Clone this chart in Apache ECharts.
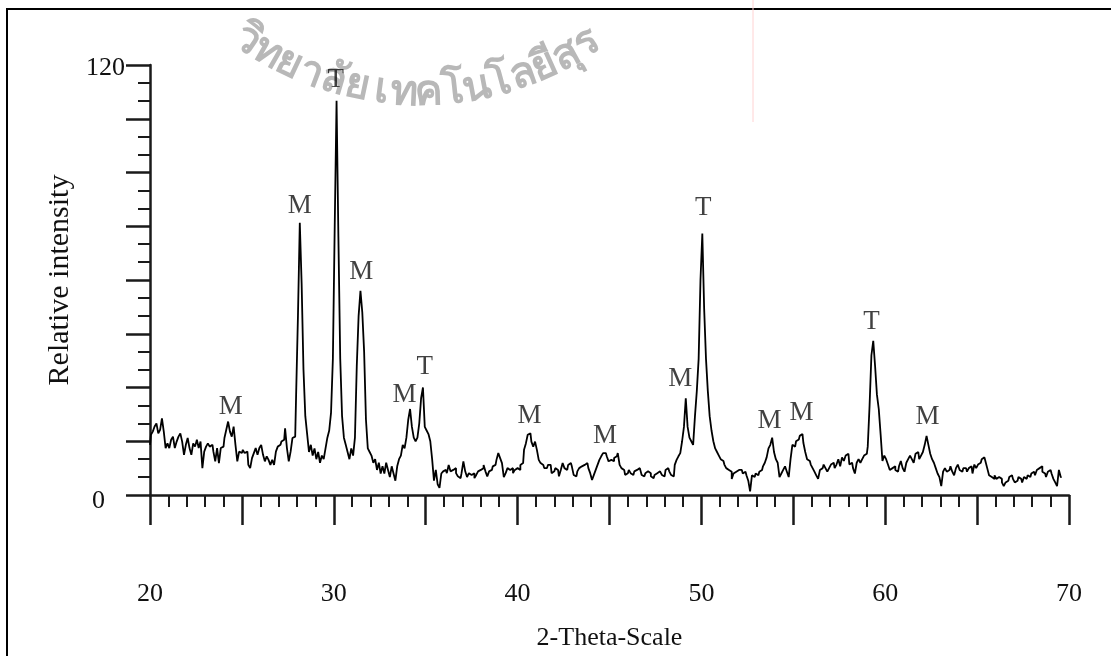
<!DOCTYPE html>
<html>
<head>
<meta charset="utf-8">
<script src="https://cdn.jsdelivr.net/npm/echarts@6/dist/echarts.min.js"></script>
<style>
  html, body { margin: 0; padding: 0; background: #fff; }
  #chart { width: 1111px; height: 656px; }
</style>
</head>
<body>
<div id="chart"></div>
<script>
// ── XRD scan: 2-theta grid and intensity ─────────────────────────────────────
var scanStart = 20;     // first 2-theta of the scan
var scanStep = 0.1;     // 2-theta step of the scan
var intensity = [
  14, 16.8, 17.7, 19.1, 20, 17.2, 18.2, 21.4, 17.7, 13.1,        // 20
  14.4, 13.1, 15.4, 16.3, 13.1, 14.9, 16.3, 17.2, 14.9, 11.2,    // 21
  14, 15.9, 13.1, 11.2, 14.4, 13.5, 15.4, 13.1, 14.9, 7.5,       // 22
  12.1, 13.5, 14.4, 13.5, 14, 12.1, 9.4, 13.1, 8.9, 13.1,        // 23
  13.5, 15.9, 18.2, 20.5, 17.7, 16.3, 19.1, 14, 9.4, 12.1,       // 24
  11.7, 12.6, 11.7, 12.1, 8.4, 7.5, 10.3, 11.7, 13.1, 11.2,      // 25
  13.1, 14, 11.2, 9.4, 10.8, 9.8, 8.4, 9.8, 8.4, 12.1,           // 26
  13.5, 14, 14.9, 15.4, 18.6, 13.1, 9.4, 12.1, 15.9, 16.3,       // 27
  28, 50, 76, 59, 35, 22, 17, 12, 14, 11,                        // 28
  13, 10, 12, 9, 11, 10, 13, 16, 18, 23,                         // 29
  38, 75, 110, 72, 38, 22, 16, 14, 12, 10,                       // 30
  13, 11, 16, 36, 50, 57, 51, 40, 21, 13,                        // 31
  12, 11, 9, 10, 7, 9, 6, 8, 6, 9,                               // 32
  7, 5, 8, 6, 4, 8, 10, 11, 14, 13,                              // 33
  16, 21, 24, 19, 16, 15, 16, 20, 27, 30,                        // 34
  19, 18, 17, 15, 10, 4, 7, 3, 2, 6,                             // 35
  6.6, 7, 6.1, 8.4, 6.6, 7, 7.5, 6.1, 5.2, 4.7,                  // 36
  6.1, 9.4, 6.6, 5, 6.1, 5.6, 6.1, 4.7, 5.6, 6.6,                // 37
  7, 7.5, 8.4, 6.6, 5.2, 6.6, 7, 8, 8.4, 9.8,                    // 38
  11.7, 10.3, 8.9, 5, 6.1, 7.5, 7, 7.5, 6.1, 7,                  // 39
  7.5, 7, 8.4, 8.9, 12.6, 14.4, 16.8, 17.2, 14.9, 13.5,          // 40
  14.9, 12.6, 9.8, 8.9, 8.4, 7.5, 7.5, 8.4, 8.4, 6.1,            // 41
  6.6, 7.5, 7, 5.2, 7, 8.9, 7.5, 7, 8.4, 8.9,                    // 42
  8, 5.6, 5.2, 6.6, 7.5, 8, 8.4, 8.9, 8.9, 7.5,                  // 43
  6.1, 4.2, 5.6, 7, 8.4, 9.8, 10.8, 11.7, 11.7, 10.8,            // 44
  9.4, 9.8, 9.4, 10.3, 10.8, 11.7, 8.4, 7.5, 7, 5.6,             // 45
  6.1, 7, 6.1, 5.6, 6.6, 7, 7.5, 7, 5.6, 5.2,                    // 46
  6.1, 6.6, 6.1, 5.2, 4.7, 5.6, 6.1, 6.6, 7, 5.6,                // 47
  5.2, 7, 7.5, 6.6, 5.6, 5.2, 8.4, 9.8, 10.8, 11.7,              // 48
  15, 19, 27, 19, 16, 15, 14, 22, 29, 38,                        // 49
  60, 73, 52, 38, 29, 22, 18, 15, 13, 12,                        // 50
  11, 10, 9.5, 8.5, 7.5, 7, 6.5, 4.5, 6, 6.5,                    // 51
  7, 7.5, 7, 6, 6.5, 5.5, 4, 1, 5.5, 5,                          // 52
  6, 5.5, 6.5, 7, 8, 9, 10.5, 13, 14, 16,                        // 53
  12, 10, 9, 5, 6, 7, 8, 6.5, 5, 10,                             // 54
  14, 13.5, 15, 15.5, 16.5, 17, 14.5, 12, 10, 9.5,               // 55
  8.5, 7.5, 6.5, 5.5, 4.5, 7, 7.5, 8.5, 7.5, 6.5,                // 56
  7.5, 8.5, 9, 7.5, 8.5, 10, 8, 10.5, 9.5, 11,                   // 57
  11.5, 8.5, 9, 7.5, 6, 9, 10, 9, 10, 11,                        // 58
  11.5, 13.5, 25, 39, 43, 36, 28, 24, 17, 9.5,                   // 59
  11, 10, 8.5, 7, 7.5, 8, 7, 6.5, 8, 9.5,                        // 60
  7.5, 6.5, 9, 10, 11, 10, 9, 11.5, 12, 10,                      // 61
  11, 12, 14, 16.5, 14, 11.5, 10, 9, 7.5, 6,                     // 62
  5, 2.5, 6.5, 7.5, 6.5, 7, 8, 6.5, 5.5, 7.5,                    // 63
  8.5, 7, 6.5, 7.5, 7.5, 6.5, 7.5, 8, 6, 8.5,                    // 64
  7.5, 8.5, 9, 10, 10.5, 9.5, 7.5, 5.5, 5, 4.5,                  // 65
  5.5, 4.5, 5, 4.5, 3.5, 2.5, 3.5, 4, 5, 5.5,                    // 66
  4.5, 3.5, 4, 5, 4.5, 3.5, 5, 4.5, 5.5, 5,                      // 67
  6, 6.5, 5.5, 7, 7.5, 8, 6.5, 6, 5, 6.5,                        // 68
  7, 6, 4.5, 3.5, 2.5, 7, 5                                      // 69
];

// ── Phase labels (M / T) and where they sit ──────────────────────────────────
var peakNames = ['M', 'M', 'T', 'M', 'M', 'T', 'M', 'M', 'M', 'T', 'M', 'M', 'T', 'M'];
var peakTheta = [24.4, 28.15, 30.1, 31.5, 33.85, 34.95, 40.65, 44.75, 48.85, 50.1, 53.7, 55.45, 59.25, 62.3];
var peakLabelY = [24.7, 80.6, 115.8, 62.2, 27.8, 35.8, 22.1, 16.5, 32.5, 80, 20.8, 23, 48.3, 21.7];

// ── Axis text ────────────────────────────────────────────────────────────────
var xTitle = '2-Theta-Scale';
var yTitle = 'Relative intensity';
var yShownTicks = [0, 120];
var watermarkClusters = ['วิ', 'ท', 'ย', 'า', 'ลั', 'ย', 'เ', 'ท', 'ค', 'โ', 'น', 'โ', 'ล', 'ยี', 'สุ', 'ร'];

var SERIF = "'Liberation Serif', 'Times New Roman', 'DejaVu Serif', serif";
var INK = '#1a1a1a';
var FS = 26;

var scan = intensity.map(function(v, i) {
  return [+(scanStart + i * scanStep).toFixed(1), v];
});
var peaks = peakNames.map(function(n, i) {
  return { name: n, value: [peakTheta[i], peakLabelY[i]] };
});

// watermark along an arc (decoration only)
function watermark() {
  var cx = 420, cy = -212, R = 305, a0 = -0.6, a1 = 0.58;
  var n = watermarkClusters.length;
  return watermarkClusters.map(function(t, i) {
    var phi = a0 + (a1 - a0) * i / (n - 1);
    return {
      type: 'text', silent: true, z: 0,
      x: cx + R * Math.sin(phi), y: cy + R * Math.cos(phi),
      rotation: phi,
      style: {
        text: t, fill: '#b8b8b8', font: 'bold 42px sans-serif',
        align: 'center', verticalAlign: 'middle'
      }
    };
  });
}

var chart = echarts.init(document.getElementById('chart'), null, { renderer: 'canvas' });
chart.setOption({
  animation: false,
  backgroundColor: '#fff',
  grid: { left: 150, right: 42, top: 65, bottom: 159 },
  xAxis: {
    type: 'value', min: 20, max: 70, interval: 5,
    axisLine: { lineStyle: { color: INK, width: 2.5 } },
    axisTick: { length: 30, lineStyle: { color: INK, width: 2.5 } },
    minorTick: { show: true, splitNumber: 5, length: 12, lineStyle: { color: INK, width: 2 } },
    splitLine: { show: false },
    axisLabel: {
      margin: 86, color: '#111', fontFamily: SERIF, fontSize: FS,
      showMinLabel: true, showMaxLabel: true,
      formatter: function(v) { return v % 10 === 0 ? String(v) : ''; }
    },
    name: xTitle, nameLocation: 'middle', nameGap: 130,
    nameTextStyle: { color: '#111', fontFamily: SERIF, fontSize: FS }
  },
  yAxis: {
    type: 'value', min: 0, max: 120, interval: 15,
    axisLine: { show: true, lineStyle: { color: INK, width: 2.5 } },
    axisTick: { show: true, length: 24, lineStyle: { color: INK, width: 2.5 } },
    minorTick: { show: true, splitNumber: 3, length: 12, lineStyle: { color: INK, width: 2 } },
    splitLine: { show: false },
    axisLabel: {
      margin: 25, color: '#111', fontFamily: SERIF, fontSize: FS,
      formatter: function(v) {
        if (yShownTicks.indexOf(v) < 0) return '';
        return v === 0 ? '{z|0}' : '{h|' + v + '}';
      },
      rich: {
        z: { fontFamily: SERIF, fontSize: FS, color: '#111', padding: [12, 20, 0, 0] },
        h: { fontFamily: SERIF, fontSize: FS, color: '#111', padding: [6, 0, 0, 0] }
      }
    },
    name: yTitle, nameLocation: 'middle', nameGap: 72, nameRotate: 90,
    nameTextStyle: { color: '#111', fontFamily: SERIF, fontSize: 30 }
  },
  series: [
    {
      type: 'line', data: scan, step: 'middle', showSymbol: false, silent: true,
      lineStyle: { color: '#000', width: 1.8 }, z: 3
    },
    {
      type: 'scatter', data: peaks, symbolSize: 1, silent: true, z: 4,
      itemStyle: { color: 'rgba(0,0,0,0)' },
      label: {
        show: true, position: 'inside', color: '#111',
        fontFamily: SERIF, fontSize: 27,
        formatter: function(p) { return p.name; }
      }
    }
  ],
  graphic: [
    { type: 'rect', silent: true, shape: { x: 7, y: 9, width: 1200, height: 700 },
      style: { fill: 'none', stroke: '#000', lineWidth: 2 } },
    { type: 'line', silent: true, shape: { x1: 753, y1: 0, x2: 753, y2: 122 },
      style: { stroke: '#ffd2d2', lineWidth: 1 } }
  ].concat(watermark())
});
</script>
</body>
</html>
